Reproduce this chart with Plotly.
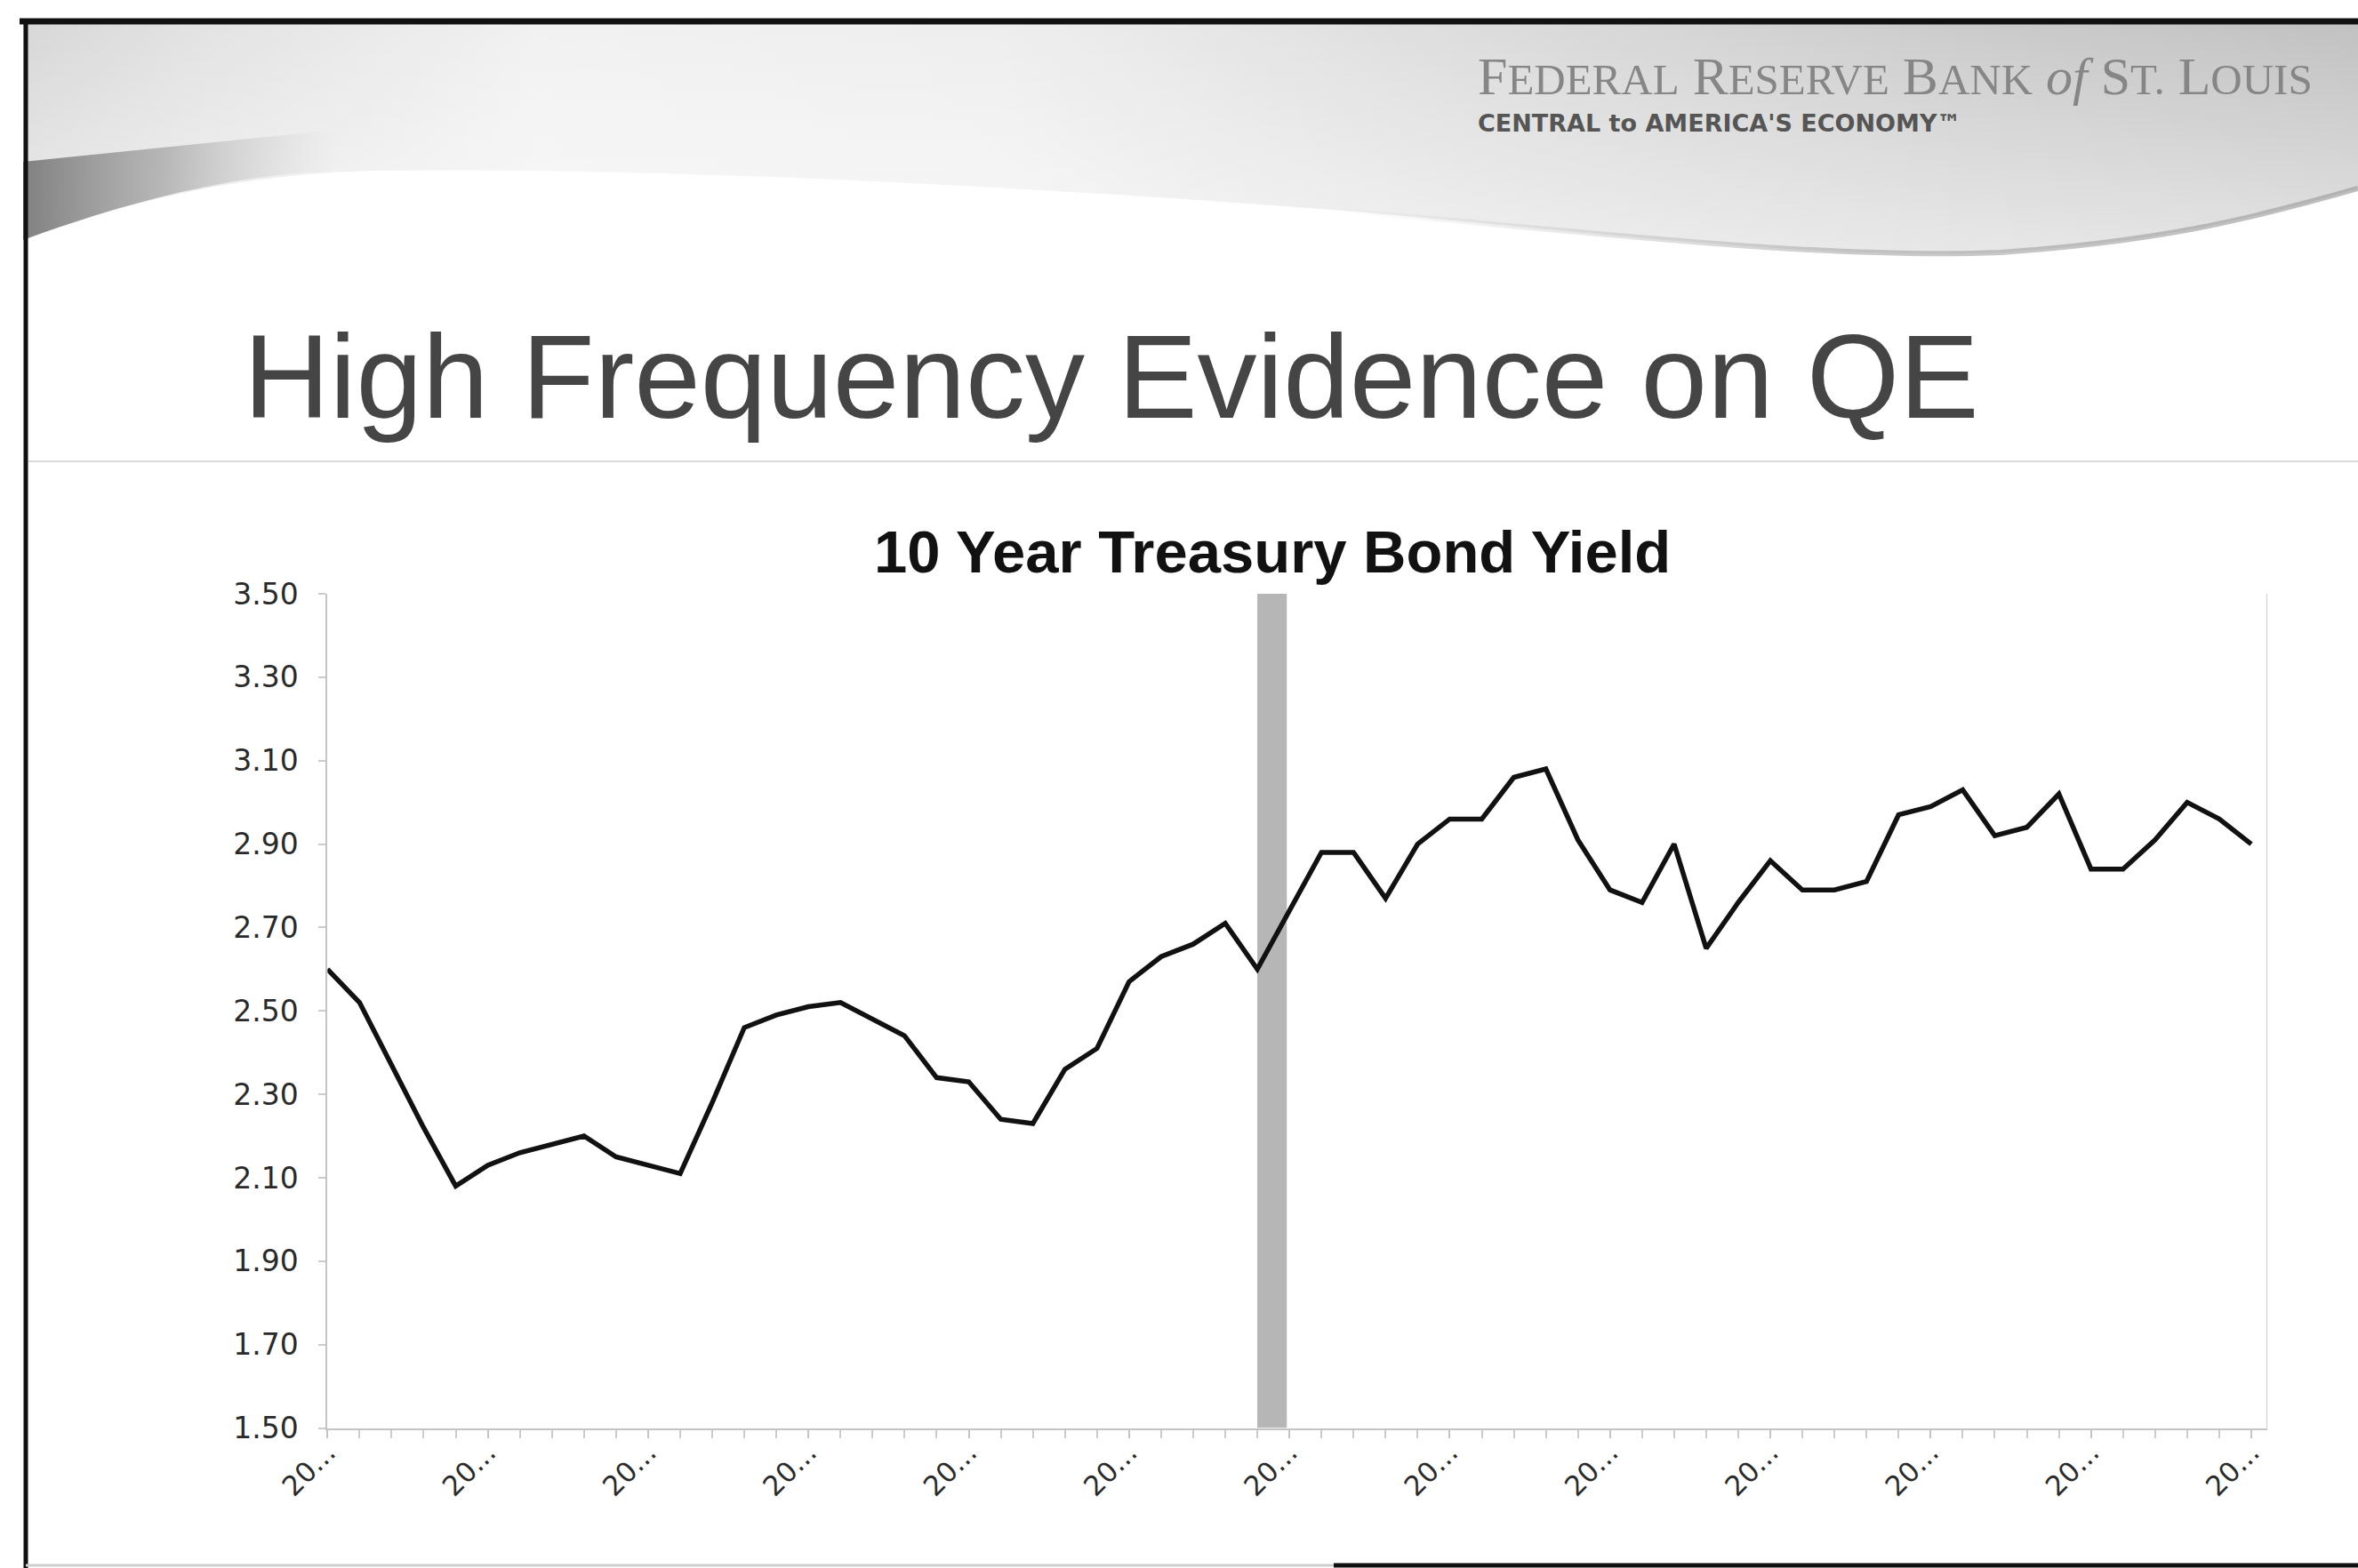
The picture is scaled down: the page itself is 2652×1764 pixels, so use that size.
import base64
import plotly.graph_objects as go

# 10-year Treasury yield, daily observations (percent)
yields = [
    2.60, 2.52, 2.37, 2.22, 2.08, 2.13, 2.16, 2.18, 2.20, 2.15,
    2.13, 2.11, 2.28, 2.46, 2.49, 2.51, 2.52, 2.48, 2.44, 2.34,
    2.33, 2.24, 2.23, 2.36, 2.41, 2.57, 2.63, 2.66, 2.71, 2.60,
    2.74, 2.88, 2.88, 2.77, 2.90, 2.96, 2.96, 3.06, 3.08, 2.91,
    2.79, 2.76, 2.90, 2.65, 2.76, 2.86, 2.79, 2.79, 2.81, 2.97,
    2.99, 3.03, 2.92, 2.94, 3.02, 2.84, 2.84, 2.91, 3.00, 2.96,
    2.90,
]
day_index = list(range(len(yields)))

# category labels (truncated dates) shown every fifth observation
label_positions = [0, 5, 10, 15, 20, 25, 30, 35, 40, 45, 50, 55, 60]
label_text = ["20..."] * len(label_positions)

y_ticks = [1.50, 1.70, 1.90, 2.10, 2.30, 2.50, 2.70, 2.90, 3.10, 3.30, 3.50]

# shaded announcement window (in observation units)
qe_window = (29.0, 29.92)

W, H = 2652, 1764


def px(x):
    return x / W


def py(y):
    return 1 - y / H


# slide header: grey swoosh band with a darker wedge on the left
edge = ("C2520,250 2420,272 2250,284 C2050,292 1800,262 1500,236 "
        "C1100,205 700,188 420,192 C250,196 120,235 26,270")
svg = f"""<svg xmlns="http://www.w3.org/2000/svg" width="2652" height="1764" viewBox="0 0 2652 1764" preserveAspectRatio="none">
<defs>
<linearGradient id="band" x1="0" y1="0" x2="1" y2="0">
<stop offset="0" stop-color="#d7d7d7"/>
<stop offset="0.08" stop-color="#e3e3e3"/>
<stop offset="0.22" stop-color="#f1f1f1"/>
<stop offset="0.42" stop-color="#eeeeee"/>
<stop offset="0.62" stop-color="#dcdcdc"/>
<stop offset="0.82" stop-color="#cccccc"/>
<stop offset="1" stop-color="#c1c1c1"/>
</linearGradient>
<linearGradient id="fade" x1="0" y1="0" x2="0" y2="1">
<stop offset="0" stop-color="#ffffff" stop-opacity="0"/>
<stop offset="1" stop-color="#ffffff" stop-opacity="0.55"/>
</linearGradient>
<linearGradient id="rim" x1="1500" y1="0" x2="2652" y2="0" gradientUnits="userSpaceOnUse">
<stop offset="0" stop-color="#b0b0b0" stop-opacity="0"/>
<stop offset="0.5" stop-color="#a8a8a8" stop-opacity="0.6"/>
<stop offset="1" stop-color="#a0a0a0" stop-opacity="0.7"/>
</linearGradient>
<linearGradient id="wedge" x1="0" y1="0" x2="1" y2="0">
<stop offset="0" stop-color="#808080"/>
<stop offset="0.45" stop-color="#a6a6a6" stop-opacity="0.75"/>
<stop offset="1" stop-color="#cfcfcf" stop-opacity="0"/>
</linearGradient>
</defs>
<path d="M26,26 L2652,26 L2652,212 {edge} Z" fill="url(#band)"/>
<path d="M26,26 L2652,26 L2652,212 {edge} Z" fill="url(#fade)"/>
<path d="M2652,212 C2520,250 2420,272 2250,284 C2050,292 1800,262 1500,236" fill="none" stroke="url(#rim)" stroke-width="6"/>
<path d="M26,182 L380,146 L380,192 C250,196 120,235 26,270 Z" fill="url(#wedge)"/>
</svg>"""
svg_uri = "data:image/svg+xml;base64," + base64.b64encode(svg.encode("utf-8")).decode("ascii")

fig = go.Figure()

fig.add_trace(go.Scatter(
    x=day_index,
    y=yields,
    mode="lines",
    line=dict(color="#111111", width=5.5),
    hoverinfo="skip",
    showlegend=False,
))

shapes = [
    # announcement window band
    dict(type="rect", xref="x", yref="y", x0=qe_window[0], x1=qe_window[1],
         y0=y_ticks[0], y1=y_ticks[-1], fillcolor="#b6b6b6", line=dict(width=0), layer="below"),
    # right edge of the plot area
    dict(type="line", xref="x", yref="y", x0=60.5, x1=60.5, y0=y_ticks[0], y1=y_ticks[-1],
         line=dict(color="#cfcfcf", width=2)),
    # slide frame
    dict(type="line", xref="paper", yref="paper", x0=px(22), x1=1, y0=py(24), y1=py(24),
         line=dict(color="#111111", width=7)),
    dict(type="line", xref="paper", yref="paper", x0=px(29), x1=px(29), y0=py(21), y1=0,
         line=dict(color="#111111", width=5)),
    dict(type="line", xref="paper", yref="paper", x0=px(29), x1=px(1500), y0=py(1761), y1=py(1761),
         line=dict(color="#cfcfcf", width=3)),
    dict(type="line", xref="paper", yref="paper", x0=px(1500), x1=1, y0=py(1761), y1=py(1761),
         line=dict(color="#111111", width=5)),
    # rule under the slide title
    dict(type="line", xref="paper", yref="paper", x0=px(32), x1=1, y0=py(519), y1=py(519),
         line=dict(color="#d9d9d9", width=2)),
]

sc = "font-size:49px"
logo_line1 = (
    f"F<span style='{sc}'>EDERAL</span> R<span style='{sc}'>ESERVE</span> "
    f"B<span style='{sc}'>ANK</span> <i>of</i> S<span style='{sc}'>T.</span> "
    f"L<span style='{sc}'>OUIS</span>"
)

annotations = [
    dict(text=logo_line1, xref="paper", yref="paper", x=px(1660), y=py(86),
         xanchor="left", yanchor="middle", showarrow=False,
         font=dict(family="Liberation Serif", size=60, color="#868686")),
    dict(text="<b>CENTRAL to AMERICA'S ECONOMY™</b>", xref="paper", yref="paper",
         x=px(1660), y=py(139), xanchor="left", yanchor="middle", showarrow=False,
         font=dict(family="DejaVu Sans", size=27, color="#555555")),
    dict(text="High Frequency Evidence on QE", xref="paper", yref="paper",
         x=px(272), y=py(424), xanchor="left", yanchor="middle", showarrow=False,
         font=dict(family="Liberation Sans", size=134, color="#454545")),
    dict(text="<b>10 Year Treasury Bond Yield</b>", xref="paper", yref="paper",
         x=px(1431), y=py(620), xanchor="center", yanchor="middle", showarrow=False,
         font=dict(family="Liberation Sans", size=67, color="#111111")),
]

fig.update_layout(
    width=W,
    height=H,
    margin=dict(l=0, r=0, t=0, b=0),
    paper_bgcolor="white",
    plot_bgcolor="white",
    showlegend=False,
    shapes=shapes,
    annotations=annotations,
    images=[dict(source=svg_uri, xref="paper", yref="paper", x=0, y=1,
                 sizex=1, sizey=1, xanchor="left", yanchor="top",
                 sizing="stretch", layer="below")],
    xaxis=dict(
        domain=[px(368.3), px(2550)],
        range=[0, 60.5],
        automargin=False,
        tickmode="array",
        tickvals=label_positions,
        ticktext=label_text,
        tickangle=-45,
        ticks="outside",
        ticklen=9,
        tickwidth=2,
        tickcolor="#c4c4c4",
        ticklabelstandoff=-14,
        minor=dict(tickmode="linear", tick0=0, dtick=1, ticks="outside",
                   ticklen=9, tickwidth=2, tickcolor="#cccccc"),
        showline=True,
        linecolor="#c4c4c4",
        linewidth=2,
        showgrid=False,
        zeroline=False,
        tickfont=dict(family="DejaVu Sans", size=31, color="#2a2a2a"),
    ),
    yaxis=dict(
        domain=[py(1606.5), py(668)],
        range=[y_ticks[0], y_ticks[-1]],
        automargin=False,
        tickmode="array",
        tickvals=y_ticks,
        tickformat=".2f",
        ticks="outside",
        ticklen=8,
        tickwidth=2,
        tickcolor="#cccccc",
        ticklabelstandoff=16,
        showline=True,
        linecolor="#c4c4c4",
        linewidth=2,
        showgrid=False,
        zeroline=False,
        tickfont=dict(family="DejaVu Sans", size=33, color="#2a2a2a"),
    ),
)

fig.write_html("out.html", config={"displayModeBar": False})
